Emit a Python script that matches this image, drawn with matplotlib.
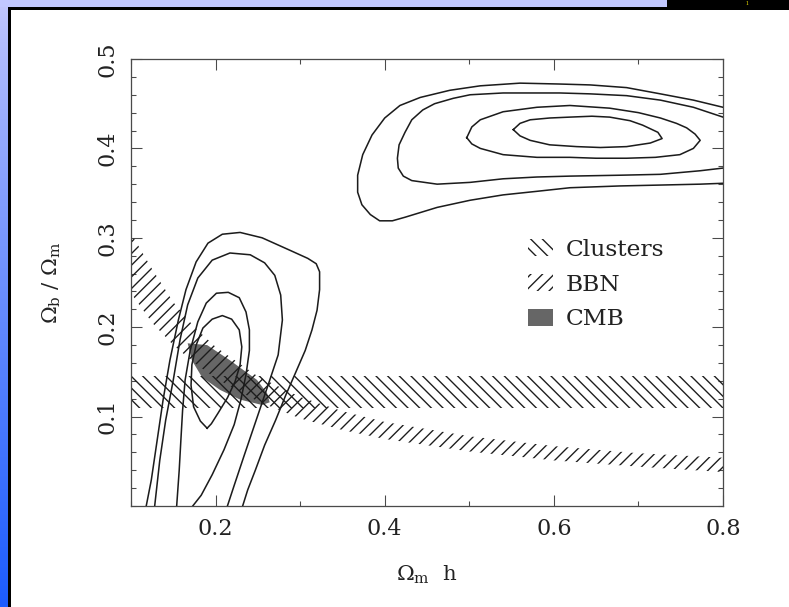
import matplotlib
matplotlib.use('Agg')
import matplotlib.pyplot as plt
import numpy as np
from matplotlib.patches import Patch, Rectangle
from matplotlib.ticker import FixedLocator, MultipleLocator

plt.rcParams['font.family'] = ['DejaVu Serif']
plt.rcParams['mathtext.fontset'] = 'dejavuserif'
plt.rcParams['hatch.linewidth'] = 1.4

# likelihood contours of the cluster fit, low Omega_m h solution (open at the bottom)
c1_x = [0.118, 0.124, 0.131, 0.138, 0.146, 0.156, 0.165, 0.177, 0.191, 0.208, 0.229, 0.255, 0.288,
        0.309, 0.319, 0.323, 0.323, 0.320, 0.314, 0.306, 0.295, 0.283, 0.271, 0.258, 0.247, 0.238, 0.232]
c1_y = [0.000, 0.029, 0.074, 0.119, 0.163, 0.208, 0.242, 0.273, 0.294, 0.304, 0.306, 0.300, 0.286,
        0.277, 0.271, 0.262, 0.242, 0.219, 0.197, 0.174, 0.150, 0.124, 0.096, 0.068, 0.040, 0.018, 0.000]
c2_x = [0.128, 0.134, 0.141, 0.150, 0.158, 0.167, 0.179, 0.196, 0.217, 0.241, 0.258, 0.270, 0.277,
        0.279, 0.274, 0.262, 0.248, 0.234, 0.222, 0.214]
c2_y = [0.000, 0.051, 0.096, 0.141, 0.186, 0.225, 0.255, 0.275, 0.283, 0.281, 0.272, 0.258, 0.236,
        0.208, 0.169, 0.135, 0.096, 0.057, 0.023, 0.000]
c3_x = [0.154, 0.157, 0.159, 0.161, 0.164, 0.170, 0.179, 0.189, 0.201, 0.215, 0.228, 0.236, 0.240,
        0.240, 0.236, 0.230, 0.222, 0.210, 0.196, 0.183, 0.173]
c3_y = [0.000, 0.040, 0.074, 0.107, 0.141, 0.174, 0.206, 0.227, 0.238, 0.239, 0.233, 0.217, 0.197,
        0.174, 0.147, 0.119, 0.091, 0.063, 0.035, 0.012, 0.000]
c4_x = [0.190, 0.182, 0.174, 0.171, 0.172, 0.177, 0.185, 0.196, 0.208, 0.219, 0.228, 0.231, 0.229,
        0.223, 0.214, 0.203, 0.195, 0.190]
c4_y = [0.087, 0.095, 0.111, 0.135, 0.158, 0.180, 0.199, 0.209, 0.213, 0.209, 0.197, 0.178, 0.158,
        0.139, 0.121, 0.104, 0.092, 0.087]

# high Omega_m h solution (open towards the right)
r1_x = [0.800, 0.765, 0.726, 0.686, 0.643, 0.607, 0.560, 0.513, 0.477, 0.442, 0.418, 0.400, 0.385,
        0.374, 0.368, 0.368, 0.373, 0.383, 0.394, 0.409, 0.424, 0.462, 0.501, 0.540, 0.580, 0.619,
        0.678, 0.726, 0.773, 0.800]
r1_y = [0.446, 0.454, 0.461, 0.468, 0.471, 0.472, 0.473, 0.470, 0.465, 0.457, 0.448, 0.434, 0.415,
        0.393, 0.370, 0.351, 0.337, 0.326, 0.319, 0.319, 0.323, 0.334, 0.342, 0.348, 0.352, 0.356,
        0.358, 0.359, 0.360, 0.361]
r2_x = [0.800, 0.765, 0.726, 0.686, 0.643, 0.607, 0.540, 0.501, 0.481, 0.459, 0.445, 0.432, 0.424,
        0.417, 0.415, 0.416, 0.422, 0.432, 0.462, 0.501, 0.540, 0.580, 0.619, 0.678, 0.726, 0.773, 0.800]
r2_y = [0.435, 0.446, 0.454, 0.459, 0.461, 0.462, 0.462, 0.460, 0.456, 0.450, 0.443, 0.432, 0.418,
        0.404, 0.389, 0.378, 0.369, 0.364, 0.360, 0.362, 0.366, 0.368, 0.369, 0.370, 0.371, 0.375, 0.378]
r3_x = [0.497, 0.503, 0.513, 0.540, 0.580, 0.619, 0.666, 0.700, 0.726, 0.745, 0.757, 0.767, 0.773,
        0.765, 0.749, 0.720, 0.686, 0.650, 0.619, 0.580, 0.540, 0.513, 0.503, 0.497]
r3_y = [0.412, 0.424, 0.432, 0.441, 0.446, 0.448, 0.445, 0.440, 0.434, 0.428, 0.423, 0.416, 0.409,
        0.400, 0.393, 0.390, 0.389, 0.389, 0.390, 0.390, 0.393, 0.400, 0.405, 0.412]
r4_x = [0.552, 0.560, 0.572, 0.595, 0.619, 0.645, 0.666, 0.690, 0.705, 0.723, 0.728, 0.714, 0.700,
        0.686, 0.655, 0.627, 0.595, 0.572, 0.560, 0.552]
r4_y = [0.421, 0.428, 0.432, 0.434, 0.435, 0.436, 0.435, 0.431, 0.426, 0.418, 0.411, 0.406, 0.404,
        0.402, 0.401, 0.402, 0.404, 0.409, 0.414, 0.421]

# X-ray cluster baryon fraction
clusters_x = [0.1, 0.8]
clusters_lo = [0.110, 0.110]
clusters_hi = [0.145, 0.145]

# nucleosynthesis constraint on Omega_b h^2, seen in this plane
bbn_x = [0.10, 0.125, 0.15, 0.175, 0.20, 0.25, 0.30, 0.35, 0.40, 0.50, 0.60, 0.70, 0.80]
bbn_lo = [0.238, 0.205, 0.180, 0.160, 0.143, 0.117, 0.098, 0.085, 0.075, 0.061, 0.051, 0.044, 0.038]
bbn_hi = [0.305, 0.265, 0.228, 0.200, 0.178, 0.145, 0.122, 0.106, 0.094, 0.078, 0.067, 0.059, 0.054]

# CMB allowed region
cmb_x = [0.167, 0.190, 0.217, 0.249, 0.261, 0.264, 0.255, 0.229, 0.205, 0.184, 0.172]
cmb_y = [0.182, 0.180, 0.163, 0.141, 0.126, 0.116, 0.113, 0.119, 0.130, 0.144, 0.163]

xticks = [0.2, 0.4, 0.6, 0.8]
xtick_labels = ['0.2', '0.4', '0.6', '0.8']
yticks = [0.1, 0.2, 0.3, 0.4, 0.5]
ytick_labels = ['0.1', '0.2', '0.3', '0.4', '0.5']
legend_labels = ['Clusters', 'BBN', 'CMB']

W, H, DPI = 789, 607, 70
fig = plt.figure(figsize=(W / DPI, H / DPI), dpi=DPI)
fig.patch.set_facecolor('white')

# slide frame behind the plot
bg = fig.add_axes([0, 0, 1, 1], zorder=-5)
bg.set_xlim(0, W)
bg.set_ylim(H, 0)
bg.axis('off')
top_col = np.array([196, 200, 252]) / 255
bot_col = np.array([28, 92, 255]) / 255
t = np.linspace(0, 1, 256)[:, None, None] ** 0.85
grad = top_col * (1 - t) + bot_col * t
bg.imshow(grad, extent=(0, 8.5, H, 0), aspect='auto')
bg.add_patch(Rectangle((0, 0), 667, 7, color='#c2c8ff', lw=0))
bg.add_patch(Rectangle((667, 0), W - 667, 7, color='black', lw=0))
bg.add_patch(Rectangle((8, 6.5), W - 8, 3.5, color='black', lw=0))
bg.add_patch(Rectangle((8, 6.5), 3, H, color='black', lw=0))
bg.text(747, 3.3, '1', color='#f2e400', fontsize=5, ha='center', va='center')

ax = fig.add_axes([131 / W, (H - 506) / H, 592 / W, 447 / H])
ax.set_xlim(0.1, 0.8)
ax.set_ylim(0, 0.5)

ink = '#1c1c1c'
ax.fill(cmb_x, cmb_y, color='#666666', lw=0, zorder=1)
ax.fill_between(clusters_x, clusters_lo, clusters_hi, facecolor='none', edgecolor=ink,
                hatch='\\\\', linewidth=0, zorder=2)
ax.fill_between(bbn_x, bbn_lo, bbn_hi, facecolor='none', edgecolor=ink,
                hatch='//', linewidth=0, zorder=2)

for cx, cy in [(c1_x, c1_y), (c2_x, c2_y), (c3_x, c3_y), (c4_x, c4_y),
               (r1_x, r1_y), (r2_x, r2_y), (r3_x, r3_y), (r4_x, r4_y)]:
    ax.plot(cx, cy, color=ink, lw=1.6, zorder=3, solid_joinstyle='round')

# axes styling
for s in ax.spines.values():
    s.set_color('#4a4a4a')
    s.set_linewidth(1.3)
ax.set_xticks(xticks)
ax.set_xticklabels(xtick_labels)
ax.xaxis.set_minor_locator(FixedLocator([0.1, 0.3, 0.5, 0.7]))
ax.set_yticks(yticks)
ax.set_yticklabels(ytick_labels)
ax.yaxis.set_minor_locator(MultipleLocator(0.02))
ax.tick_params(which='both', direction='in', top=True, right=True, color='#4a4a4a', width=1.1,
               labelsize=23, labelcolor='#222222')
ax.tick_params(which='major', length=11)
ax.tick_params(which='minor', length=5.5)
ax.tick_params(axis='x', pad=12)
ax.tick_params(axis='y', pad=13, labelrotation=90)
plt.setp(ax.get_yticklabels(), va='center')

ax.set_xlabel(r'$\Omega_{\rm m}$  h', fontsize=22, color='#222222')
ax.set_ylabel(r'$\Omega_{\rm b}$ / $\Omega_{\rm m}$', fontsize=22, color='#222222')
ax.xaxis.set_label_coords(0.5, -0.13)
ax.yaxis.set_label_coords(-0.115, 0.5)

handles = [Patch(facecolor='none', edgecolor=ink, hatch='\\\\', linewidth=0),
           Patch(facecolor='none', edgecolor=ink, hatch='//', linewidth=0),
           Patch(facecolor='#666666', edgecolor='none', linewidth=0)]
ax.legend(handles, legend_labels, loc='upper left', bbox_to_anchor=(0.671, 0.598),
          frameon=False, fontsize=24, handlelength=1.05, handleheight=0.75,
          handletextpad=0.55, labelspacing=0.55, borderpad=0, borderaxespad=0,
          labelcolor='#222222')

fig.savefig('out.png', dpi=DPI)
